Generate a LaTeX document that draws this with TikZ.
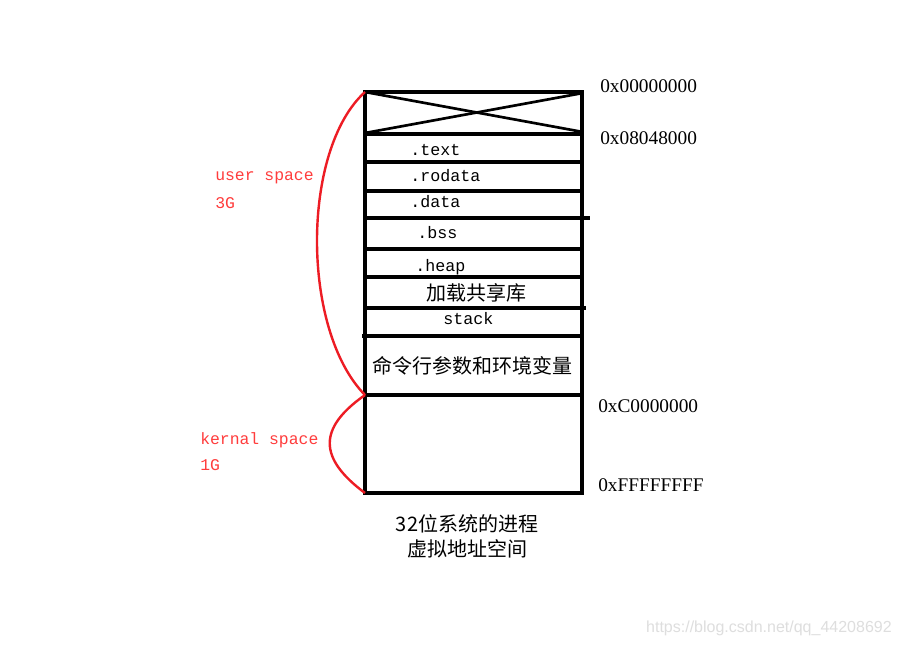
\documentclass[tikz,border=0pt]{standalone}
\usepackage{fontspec}
\setmainfont{Liberation Serif}
\setmonofont{Liberation Mono}
\newfontfamily\cjk{Noto Sans CJK SC}
\usetikzlibrary{positioning}
\definecolor{paintred}{RGB}{237,28,36}
\definecolor{labelred}{RGB}{255,60,60}

\begin{document}
\begin{tikzpicture}[x=0.75pt,y=-0.75pt,
    box line/.style={line width=3.2pt},
    seg line/.style={line width=2.3pt},
    brace line/.style={paintred,line width=1.8pt},
    seg label/.style={font=\ttfamily\fontsize{12.5}{14}\selectfont,anchor=west,inner sep=0pt},
    cn label/.style={font=\cjk\fontsize{15}{18}\selectfont,inner sep=0pt},
    addr label/.style={font=\fontsize{14.5}{17}\selectfont,anchor=west,inner sep=0pt},
    space label/.style={font=\ttfamily\fontsize{12.3}{14}\selectfont,text=labelred,anchor=west,inner sep=0pt}]
  \useasboundingbox[fill=white] (0,0) rectangle (901,647);
  \begin{scope}
    % corners of the address space
    \coordinate (tl) at (365,92);
    \coordinate (tr) at (582,92);
    \coordinate (ml) at (365,395);
    \coordinate (mr) at (584,395);
    \coordinate (bl) at (365,493);
    \coordinate (br) at (582,493);

    \draw[box line] (tl) -- (tr) -- (br) -- (bl) -- cycle;
    \draw[box line] (365,134) -- (584,134);
    \draw[box line] (ml) -- (mr);
    % reserved area
    \draw[line width=2pt] (tl) -- (583,132);
    \draw[line width=2pt] (365,133) -- (583,93);

    \draw[seg line] (365,162) -- (580,162);
    \draw[seg line] (365,191) -- (583,191);
    \draw[seg line] (365,218) -- (590,218);
    \draw[seg line] (365,249) -- (583,249);
    \draw[seg line] (365,277) -- (583,277);
    \draw[seg line] (365,308) -- (586,308);
    \draw[seg line] (362,336) -- (583,336);

    \node[seg label] (text) at (410,150) {.text};
    \node[seg label] (rodata) at (410,176) {.rodata};
    \node[seg label] (data) at (410,202) {.data};
    \node[seg label] (bss) at (417,233) {.bss};
    \node[seg label] (heap) at (415,267) {.heap};
    \node[cn label] (shlib) at (476,293) {加载共享库};
    \node[seg label] (stack) at (443,319) {stack};
    \node[cn label] (env) at (472,366) {命令行参数和环境变量};

    \node[addr label] (a0) at (600,86) {0x00000000};
    \node[addr label] (a1) at (600,138) {0x08048000};
    \node[addr label] (a2) at (598,406) {0xC0000000};
    \node[addr label] (a3) at (598,485) {0xFFFFFFFF};

    % user / kernel split
    \draw[brace line] (tl) .. controls (301,150) and (301,330) .. (ml);
    \draw[brace line] (ml) .. controls (318,428) and (318,458) .. (bl);
    \node[space label] (user) at (215,178) {user space};
    \node[space label] (userg) at (215,203) {3G};
    \node[space label] (kern) at (200,440) {kernal space};
    \node[space label] (kerng) at (200,465) {1G};

    \node[cn label] (cap1) at (467,524) {32位系统的进程};
    \node[cn label] (cap2) at (467,549) {虚拟地址空间};

    \node[font=\fontspec{Liberation Sans}\fontsize{12}{14}\selectfont,text=black!13,anchor=east,inner sep=0pt] (mark) at (892,628) {https://blog.csdn.net/qq\_44208692};
  \end{scope}
\end{tikzpicture}
\end{document}
